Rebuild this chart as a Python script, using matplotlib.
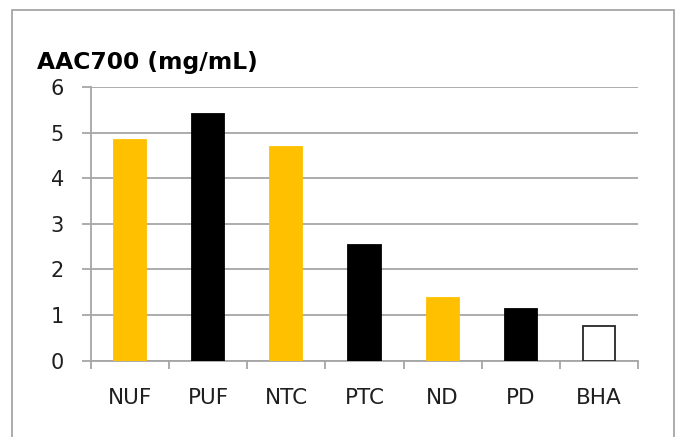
import matplotlib
matplotlib.use("Agg")
import matplotlib.pyplot as plt
from matplotlib.patches import Rectangle

# Data
categories = ["NUF", "PUF", "NTC", "PTC", "ND", "PD", "BHA"]
values = [4.84, 5.41, 4.68, 2.53, 1.37, 1.14, 0.76]
face_colors = ["#FFC000", "#000000", "#FFC000", "#000000", "#FFC000", "#000000", "#FFFFFF"]
edge_colors = ["#FFC000", "#000000", "#FFC000", "#000000", "#FFC000", "#000000", "#262626"]
y_ticks = [0, 1, 2, 3, 4, 5, 6]

GRID = "#A6A6A6"
TEXT = "#1F1F1F"
plt.rcParams["font.family"] = ["DejaVu Sans"]

W, H = 680, 437
fig = plt.figure(figsize=(W / 100, H / 100), dpi=100)

# outer chart frame
fig.patches.append(Rectangle((12 / W, -0.05), 662 / W, 1.05 - 10 / H,
                             transform=fig.transFigure, fill=False,
                             edgecolor=GRID, linewidth=1.3))

ax = fig.add_axes([91 / W, 1 - 360.7 / H, (638 - 91) / W, (360.7 - 87) / H])

x = range(len(categories))
ax.bar(x, values, width=0.41, color=face_colors, edgecolor=edge_colors,
       linewidth=1.3, zorder=3)

ax.set_xlim(-0.5, len(categories) - 0.5)
ax.set_ylim(0, 6)
ax.set_yticks(y_ticks)
ax.set_yticklabels([str(t) for t in y_ticks])
ax.set_xticks(list(x))
ax.set_xticklabels(categories)
ax.set_xticks([i - 0.5 for i in range(len(categories) + 1)], minor=True)

ax.grid(axis="y", color=GRID, linewidth=1.3, zorder=0)
for s in ["top", "right"]:
    ax.spines[s].set_visible(False)
for s in ["left", "bottom"]:
    ax.spines[s].set_color(GRID)
    ax.spines[s].set_linewidth(1.3)

ax.tick_params(axis="y", length=6.5, width=1.3, color=GRID, pad=13,
               labelsize=15, labelcolor=TEXT)
ax.tick_params(axis="x", which="major", length=0, pad=20,
               labelsize=15.5, labelcolor=TEXT)
ax.tick_params(axis="x", which="minor", length=6, width=1.3, color=GRID)

fig.text(37 / W, 1 - 63 / H, "AAC700 (mg/mL)", fontsize=16.8, fontweight="bold",
         color="#000000", va="center", ha="left")

fig.savefig("out.png", dpi=100, facecolor="white")
